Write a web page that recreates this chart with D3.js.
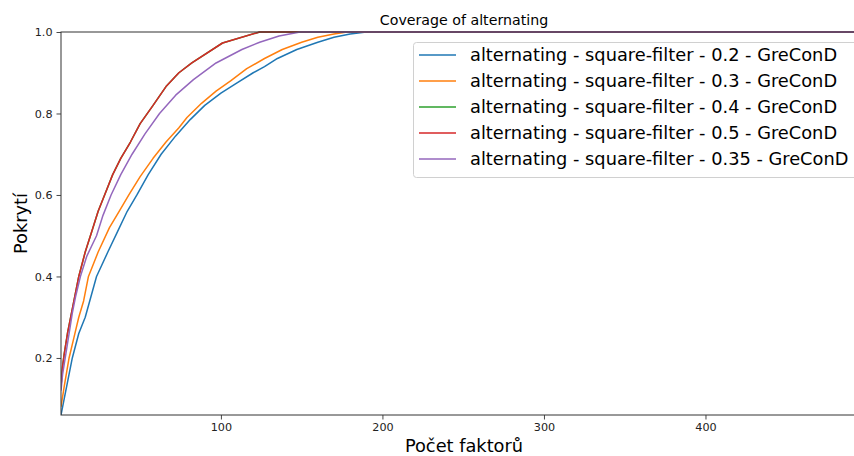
<!DOCTYPE html>
<html>
<head>
<meta charset="utf-8">
<script src="https://cdn.jsdelivr.net/npm/d3@7"></script>
<style>
  body { margin: 0; background: #fff; overflow: hidden; }
  svg { font-family: "DejaVu Sans", sans-serif; }
</style>
</head>
<body>
<svg width="854" height="456"></svg>
<script>
// Series (x = number of factors, y = coverage)
const seriesNames = [
  "alternating - square-filter - 0.2 - GreConD",
  "alternating - square-filter - 0.3 - GreConD",
  "alternating - square-filter - 0.4 - GreConD",
  "alternating - square-filter - 0.5 - GreConD",
  "alternating - square-filter - 0.35 - GreConD"
];
const colors = ["#1f77b4", "#ff7f0e", "#2ca02c", "#d62728", "#9467bd"];

const blueX = [1, 3, 5, 8, 12, 16, 23, 30, 36, 42, 48, 55, 63, 72, 81, 90, 100, 110, 120, 127, 135, 147, 160, 170, 180, 190, 500];
const blueY = [0.06, 0.10, 0.14, 0.20, 0.26, 0.30, 0.40, 0.46, 0.51, 0.56, 0.60, 0.65, 0.70, 0.745, 0.785, 0.82, 0.85, 0.875, 0.90, 0.915, 0.935, 0.957, 0.975, 0.987, 0.995, 1.0, 1.0];

const orangeX = [1, 3, 6, 9, 12, 15, 18, 24, 31, 37, 43, 50, 58, 66, 74, 79, 88, 97, 106, 116, 127, 138, 150, 160, 170, 178, 500];
const orangeY = [0.08, 0.13, 0.20, 0.25, 0.30, 0.34, 0.40, 0.46, 0.52, 0.56, 0.60, 0.645, 0.69, 0.73, 0.765, 0.79, 0.825, 0.855, 0.88, 0.91, 0.935, 0.957, 0.975, 0.987, 0.995, 1.0, 1.0];

const greenX = [1, 2, 3, 5, 7, 9, 12, 16, 20, 24, 28, 33, 38, 44, 50, 58, 66, 74, 82, 101, 124, 500];
const greenY = [0.13, 0.18, 0.21, 0.26, 0.30, 0.34, 0.40, 0.46, 0.51, 0.56, 0.60, 0.65, 0.69, 0.73, 0.775, 0.82, 0.866, 0.90, 0.924, 0.973, 1.0, 1.0];

const redX = [1, 2, 3, 5, 7, 9, 12, 16, 20, 24, 28, 33, 38, 44, 50, 58, 66, 74, 82, 101, 124, 500];
const redY = [0.13, 0.18, 0.21, 0.26, 0.30, 0.34, 0.40, 0.46, 0.51, 0.56, 0.60, 0.65, 0.69, 0.73, 0.775, 0.82, 0.866, 0.90, 0.924, 0.973, 1.0, 1.0];

const purpleX = [1, 2, 4, 6, 8, 10, 13, 17, 23, 27, 32, 38, 45, 53, 62, 72, 83, 97, 113, 124, 136, 149, 500];
const purpleY = [0.12, 0.16, 0.21, 0.26, 0.31, 0.35, 0.40, 0.45, 0.50, 0.55, 0.60, 0.65, 0.70, 0.75, 0.80, 0.845, 0.883, 0.924, 0.957, 0.975, 0.99, 1.0, 1.0];

const xTicks = [100, 200, 300, 400];
const yTicks = [0.2, 0.4, 0.6, 0.8, 1.0];

const seriesX = [blueX, orangeX, greenX, redX, purpleX];
const seriesY = [blueY, orangeY, greenY, redY, purpleY];
const series = seriesNames.map((name, i) => ({
  name,
  color: colors[i],
  points: seriesX[i].map((x, j) => [x, seriesY[i][j]])
}));

const svg = d3.select("svg");
const plotLeft = 61, plotRight = 867, plotTop = 32, plotBottom = 415;

const x = d3.scaleLinear().domain([1, 500]).range([plotLeft, plotRight]);
const y = d3.scaleLinear().domain([0.06, 1.0]).range([plotBottom, plotTop]);

// title
svg.append("text")
  .attr("x", (plotLeft + plotRight) / 2)
  .attr("y", 25)
  .attr("text-anchor", "middle")
  .attr("font-size", 14.2)
  .attr("fill", "#000")
  .text("Coverage of alternating");

// lines
svg.append("clipPath").attr("id", "plot")
  .append("rect")
  .attr("x", plotLeft).attr("y", plotTop - 2)
  .attr("width", plotRight - plotLeft).attr("height", plotBottom - plotTop + 2);

const line = d3.line().x((d) => x(d[0])).y((d) => y(d[1]));
svg.append("g")
  .attr("clip-path", "url(#plot)")
  .selectAll("path")
  .data(series)
  .join("path")
  .attr("fill", "none")
  .attr("stroke", (d) => d.color)
  .attr("stroke-width", 1.5)
  .attr("stroke-linejoin", "round")
  .attr("d", (d) => line(d.points));

// axes
const xAxis = svg.append("g")
  .attr("transform", `translate(0,${plotBottom})`)
  .call(d3.axisBottom(x).tickValues(xTicks).tickSize(4.5).tickPadding(4));
const yAxis = svg.append("g")
  .attr("transform", `translate(${plotLeft},0)`)
  .call(d3.axisLeft(y).tickValues(yTicks).tickFormat(d3.format(".1f")).tickSize(4.5).tickPadding(4));

[xAxis, yAxis].forEach((a) => {
  a.selectAll("text").attr("font-size", 11.2).attr("fill", "#222").attr("font-family", "DejaVu Sans, sans-serif");
  a.selectAll("line").attr("stroke", "#333").attr("stroke-width", 0.9);
  a.select(".domain").remove();
});

// spines
svg.append("rect")
  .attr("x", plotLeft).attr("y", plotTop)
  .attr("width", plotRight - plotLeft).attr("height", plotBottom - plotTop)
  .attr("fill", "none").attr("stroke", "#333").attr("stroke-width", 1);

// axis labels
svg.append("text")
  .attr("x", (plotLeft + plotRight) / 2)
  .attr("y", 452)
  .attr("text-anchor", "middle")
  .attr("font-size", 17.8)
  .text("Počet faktorů");

svg.append("text")
  .attr("transform", `translate(27,${(plotTop + plotBottom) / 2}) rotate(-90)`)
  .attr("text-anchor", "middle")
  .attr("font-size", 17.8)
  .text("Pokrytí");

// legend
const legend = svg.append("g").attr("transform", "translate(413,42)");
legend.append("rect")
  .attr("x", 0.5).attr("y", 0.5)
  .attr("width", 450).attr("height", 135)
  .attr("rx", 3)
  .attr("fill", "#fff").attr("fill-opacity", 0.8)
  .attr("stroke", "#d0d0d0");

const item = legend.selectAll("g.item")
  .data(series)
  .join("g")
  .attr("class", "item")
  .attr("transform", (d, i) => `translate(0,${13 + i * 26})`);
item.append("line")
  .attr("x1", 6).attr("x2", 43)
  .attr("stroke", (d) => d.color)
  .attr("stroke-width", 1.5);
item.append("text")
  .attr("x", 57)
  .attr("dy", "0.35em")
  .attr("font-size", 17.8)
  .attr("fill", "#000")
  .text((d) => d.name);
</script>
</body>
</html>
